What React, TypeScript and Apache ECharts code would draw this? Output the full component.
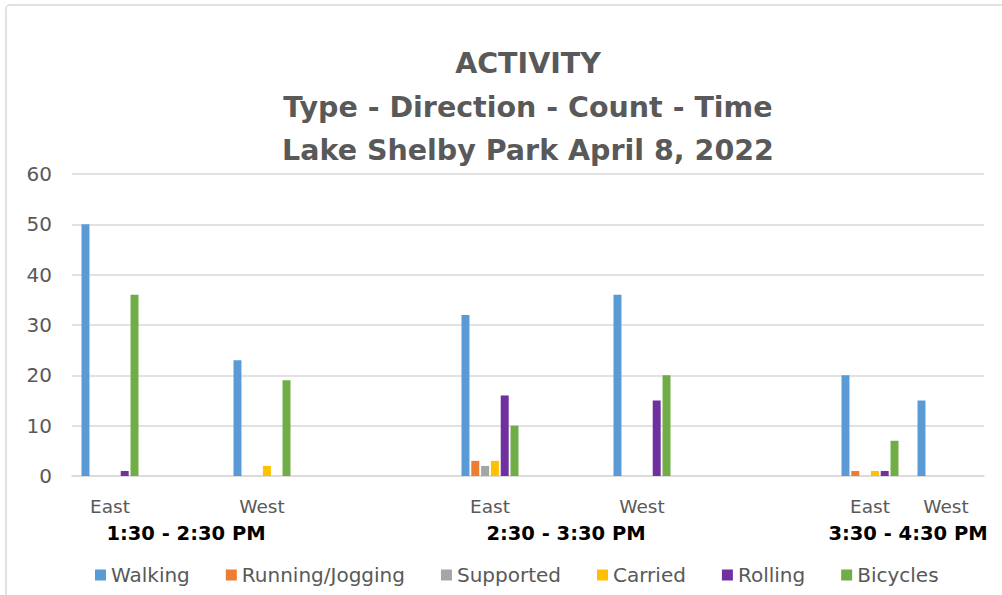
import React, { useEffect, useRef } from "react";
import * as echarts from "echarts";

// Category slots along the x axis ("" = empty spacer slot)
const categories = ["East", "", "West", "", "", "East", "", "West", "", "", "East", "West"];
// Which time slot each category slot belongs to (-1 = spacer)
const slotGroup = [0, -1, 0, -1, -1, 1, -1, 1, -1, -1, 2, 2];
const timeSlots = ["1:30 - 2:30 PM", "2:30 - 3:30 PM", "3:30 - 4:30 PM"];

// Values for the six real categories: East/West for each time slot
const walking = [50, 23, 32, 36, 20, 15];
const running = [0, 0, 3, 0, 1, 0];
const supported = [0, 0, 2, 0, 0, 0];
const carried = [0, 2, 3, 0, 1, 0];
const rolling = [1, 0, 16, 15, 1, 0];
const bicycles = [36, 19, 10, 20, 7, 0];

const seriesNames = ["Walking", "Running/Jogging", "Supported", "Carried", "Rolling", "Bicycles"];
const seriesValues = [walking, running, supported, carried, rolling, bicycles];
const colors = ["#5b9bd5", "#ed7d31", "#a5a5a5", "#ffc000", "#7030a0", "#70ad47"];

const yTicks = [0, 10, 20, 30, 40, 50, 60];

const FONT = "DejaVu Sans";

function expand(vals: number[]) {
  let k = 0;
  return categories.map((c) => (c === "" ? null : vals[k++]));
}

function groupCenters() {
  return timeSlots.map((_, g) => {
    const idx = slotGroup.map((v, i) => (v === g ? i : -1)).filter((i) => i >= 0);
    const lo = Math.min(...idx);
    const hi = Math.max(...idx);
    return (lo + hi) / 2 + 0.5;
  });
}

export default function App() {
  const ref = useRef<HTMLDivElement>(null);
  useEffect(() => {
    document.body.style.margin = "0";
    const chart = echarts.init(ref.current!, null, { renderer: "svg" });
    const centers = groupCenters();
    chart.setOption({
      animation: false,
      backgroundColor: "#ffffff",
      color: colors,
      title: {
        text: "ACTIVITY\nType - Direction - Count - Time\nLake Shelby Park April 8, 2022",
        left: 523,
        textAlign: "center",
        top: 37,
        textStyle: {
          fontFamily: FONT,
          fontSize: 28.5,
          fontWeight: "bold",
          color: "#595959",
          lineHeight: 43.5,
        },
      },
      graphic: [
        {
          type: "rect",
          shape: { x: 6, y: 5, width: 1200, height: 800, r: 4 },
          style: { fill: "none", stroke: "#d9d9d9", lineWidth: 1.5 },
          silent: true,
          z: -1,
        },
      ],
      legend: {
        data: seriesNames,
        left: 90,
        top: 560,
        itemWidth: 11,
        itemHeight: 11,
        itemGap: 36,
        icon: "rect",
        textStyle: { fontFamily: FONT, fontSize: 20, color: "#595959" },
      },
      grid: { left: 72, right: 18, top: 174, bottom: 119, containLabel: false },
      xAxis: [
        {
          type: "category",
          data: categories,
          axisLine: { lineStyle: { color: "#d9d9d9", width: 1.5 } },
          axisTick: { show: false },
          axisLabel: {
            interval: 0,
            margin: 21,
            fontFamily: FONT,
            fontSize: 18.5,
            color: "#595959",
          },
        },
        {
          type: "value",
          min: 0,
          max: categories.length,
          position: "bottom",
          axisLine: { show: false },
          axisTick: { show: false },
          splitLine: { show: false },
          axisLabel: {
            customValues: centers,
            margin: 47,
            fontFamily: FONT,
            fontSize: 19.5,
            fontWeight: "bold",
            color: "#000000",
            formatter: (v: number) => {
              const i = centers.findIndex((c) => Math.abs(c - v) < 1e-6);
              return i >= 0 ? timeSlots[i] : "";
            },
          },
        },
      ],
      yAxis: {
        type: "value",
        min: 0,
        max: 60,
        interval: 10,
        axisLine: { show: false },
        axisTick: { show: false },
        splitLine: { lineStyle: { color: "#d9d9d9", width: 1.5 } },
        axisLabel: {
          margin: 20,
          fontFamily: FONT,
          fontSize: 20,
          color: "#595959",
          formatter: (v: number) => (yTicks.includes(v) ? String(v) : ""),
        },
      },
      series: seriesNames.map((name, i) => ({
        name,
        type: "bar",
        xAxisIndex: 0,
        data: expand(seriesValues[i]),
        barCategoryGap: "25%",
        barGap: "23%",
        itemStyle: { color: colors[i] },
      })),
    });
    return () => chart.dispose();
  }, []);
  return <div ref={ref} style={{ width: 1002, height: 595 }} />;
}
